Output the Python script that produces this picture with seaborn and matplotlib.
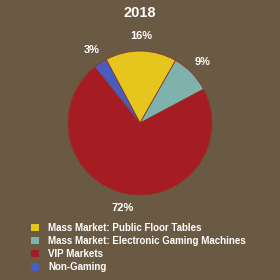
import seaborn as sns
import matplotlib.pyplot as plt

# Revenue share, 2018
categories = [
    "Mass Market: Public Floor Tables",
    "Mass Market: Electronic Gaming Machines",
    "VIP Markets",
    "Non-Gaming",
]
shares = [16, 9, 72, 3]
colors = ["#e6c51c", "#7fb2ad", "#a51c22", "#4a5cc0"]
bg = "#6a5943"

sns.set_theme(style="white")
plt.rcParams["font.family"] = ["Liberation Sans", "DejaVu Sans"]

fig = plt.figure(figsize=(2.8, 2.8), dpi=100, facecolor=bg)
ax = fig.add_axes([0.1785, 0.239, 0.643, 0.643])
ax.set_facecolor(bg)

wedges, texts = ax.pie(
    shares,
    colors=colors,
    labels=[f"{v}%" for v in shares],
    startangle=118,
    counterclock=False,
    labeldistance=1.21,
    wedgeprops={"edgecolor": "#8a3a2a", "linewidth": 0.6},
    textprops={"color": "white", "fontsize": 8, "fontweight": "bold"},
)
for t in texts:
    t.set_horizontalalignment("center")
ax.set_aspect("equal")

fig.text(0.5, 0.952, "2018", ha="center", va="center", color="white",
         fontsize=10.5, fontweight="bold")

handles = [plt.Rectangle((0, 0), 1, 1, facecolor=c, edgecolor="none") for c in colors]
fig.legend(
    handles, categories,
    loc="upper left", bbox_to_anchor=(0.095, 0.222),
    frameon=False, handlelength=0.8, handleheight=0.8,
    handletextpad=0.9, labelspacing=0.33, borderpad=0,
    labelcolor="white", prop={"weight": "bold", "size": 7},
)

fig.savefig("out.png", dpi=100, facecolor=bg)
